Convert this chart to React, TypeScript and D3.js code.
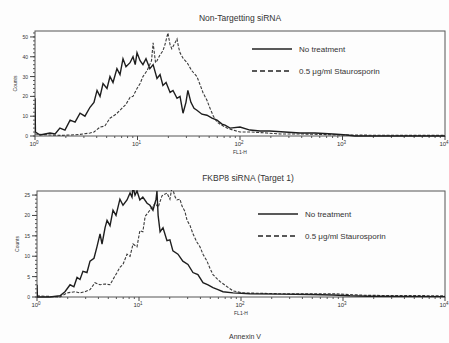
import React from 'react';
import * as d3 from 'd3';

// FL1-H intensity vs counts
const topNoTreatment: [number, number][] = [
  [1.0, 19], [1.01, 2], [1.12, 0.5], [1.25, 1], [1.4, 1.5], [1.57, 1], [1.75, 4], [1.96, 3],
  [2.2, 8], [2.46, 7], [2.75, 11.5], [3.07, 10], [3.44, 14.5], [3.76, 17], [4.03, 23], [4.31, 20],
  [4.61, 26.5], [5.04, 24], [5.39, 30], [5.77, 27], [6.3, 34], [6.75, 31], [7.22, 39], [7.72, 35],
  [8.45, 37], [9.04, 40], [9.5, 36], [9.89, 42], [10.6, 38], [11.3, 36], [12.1, 39], [13.2, 34],
  [14.2, 36], [15.5, 29], [16.6, 31], [17.7, 25.5], [19.0, 27], [20.8, 22], [22.2, 23], [24.3, 19],
  [26.0, 20], [27.8, 11.5], [29.7, 17], [31.0, 23], [33.2, 17], [35.6, 14], [38.0, 13], [42.5, 11],
  [47.6, 10.5], [53.3, 9], [59.7, 8], [66.8, 6], [71.4, 5.5], [80, 4], [100, 4.5], [125, 3],
  [157, 2.5], [195, 2.5], [273, 2], [385, 1.5], [540, 1.5], [807, 1], [1107, 0.5], [1320, 0], [10000, 0]
];

const topStauro: [number, number][] = [
  [1.0, 1], [1.4, 0.5], [1.75, 0.3], [2.2, 0.5], [2.75, 0.8], [3.44, 1.5], [3.76, 2], [4.31, 4.5],
  [4.8, 5], [5.39, 9], [6.17, 11], [6.75, 13], [7.72, 16], [8.45, 19.5], [9.04, 20], [9.89, 24],
  [10.6, 26.5], [11.3, 30], [12.4, 33], [13.7, 38], [14.2, 47], [15.0, 37], [15.5, 38], [16.6, 41],
  [17.7, 43], [18.5, 46], [19.8, 52], [20.8, 46], [21.6, 44], [23.2, 47], [24.3, 49], [25.1, 45],
  [26.0, 42], [28.0, 39], [30.5, 37], [33.8, 33], [38.0, 30], [40.7, 26], [43.5, 22], [47.6, 18],
  [51.0, 14], [55, 10], [59.7, 7], [66, 5.5], [74.7, 4], [85.5, 3], [100, 2], [130, 2], [183, 1.5],
  [250, 1], [400, 1], [600, 0.8], [1000, 0.5], [2000, 0.4], [5000, 0.3], [10000, 0.3]
];

const bottomNoTreatment: [number, number][] = [
  [1.0, 3], [1.01, 0], [1.34, 0], [1.68, 0.3], [1.88, 1.3], [2.11, 3], [2.3, 2.5], [2.47, 4.8],
  [2.64, 4.3], [2.82, 6.3], [3.09, 6], [3.31, 8.8], [3.62, 9.5], [3.87, 12.3], [4.15, 15.5], [4.34, 13],
  [4.65, 17], [4.86, 18.8], [5.2, 17.5], [5.56, 21.3], [5.95, 20], [6.5, 24], [6.97, 22.5], [7.63, 23.8],
  [8.17, 25.5], [8.54, 24.5], [8.74, 27], [9.14, 25], [9.56, 26], [10.2, 23.8], [10.9, 24.5], [12.0, 23],
  [12.8, 22.5], [13.7, 21.3], [14.7, 24], [15.0, 26], [15.4, 20], [16.1, 16], [17.2, 17], [18.8, 13.8],
  [20.1, 14], [21.5, 11.3], [24.1, 10.5], [26.9, 8.8], [30.2, 8], [33.8, 6], [37.8, 5.5], [42.4, 3.5],
  [47.5, 3], [53.1, 2.3], [59.5, 1.8], [66.6, 1.3], [83.5, 1], [122, 0.8], [241, 0.7], [475, 0.6],
  [796, 0.5], [1170, 0.3], [1720, 0.2], [10000, 0.1]
];

const bottomStauro: [number, number][] = [
  [1.0, 0.3], [1.68, 0], [1.97, 1], [2.36, 1.3], [2.64, 1], [2.95, 1.3], [3.31, 1.8], [3.7, 3.5],
  [4.15, 3], [4.65, 3.2], [5.2, 3], [5.56, 4.3], [6.09, 6], [6.5, 7.3], [6.97, 8], [7.63, 10.5],
  [8.17, 10], [8.74, 13], [9.56, 12.3], [10.2, 16.3], [10.9, 16], [11.5, 19.8], [12.8, 21.3], [14.4, 23],
  [15.4, 22], [16.8, 24.8], [18.8, 25.5], [20.1, 24], [21.1, 27], [22.6, 24.5], [23.6, 23.8], [25.2, 24],
  [26.4, 22.3], [28.2, 21], [29.6, 18.8], [31.7, 17.5], [33.8, 15.5], [36.9, 13.5], [39.6, 12.3], [42.4, 10.5],
  [46.4, 8.8], [49.7, 7], [53.1, 5.5], [58.1, 4.5], [62.2, 3.8], [73.2, 2.5], [83.5, 1.5], [105, 1],
  [241, 0.8], [796, 0.8], [1720, 0.4], [10000, 0.3]
];

const xTicks = [1, 10, 100, 1000, 10000];
const topYTicks = [0, 10, 20, 30, 40, 50];
const bottomYTicks = [0, 5, 10, 15, 20, 25];
const legendLabels = ['No treatment', '0.5 \u03bcg/ml Staurosporin'];

const ink = '#333';
const font = 'Liberation Sans, Arial, sans-serif';

type PanelProps = {
  title: string;
  titleX: number;
  left: number;
  right: number;
  top: number;
  bottom: number;
  yMax: number;
  yTicks: number[];
  minorStep: number;
  solid: [number, number][];
  dashed: [number, number][];
  legendX: number;
  legendY: number;
};

function Panel(p: PanelProps) {
  const x = d3.scaleLog().domain([1, 10000]).range([p.left, p.right]);
  const y = d3.scaleLinear().domain([0, p.yMax]).range([p.bottom, p.top]);
  const line = d3
    .line<[number, number]>()
    .x((d) => x(d[0]))
    .y((d) => y(d[1]));

  const minorX: number[] = [];
  for (let k = 0; k < 4; k++) for (let m = 2; m < 10; m++) minorX.push(m * Math.pow(10, k));
  const minorY = d3.range(0, p.yMax, p.minorStep);
  const clipId = 'clip-' + p.top;

  return (
    <g>
      <text x={p.titleX} y={p.top - 10} textAnchor="middle" fontSize={8.5} fill={ink} fontFamily={font}>
        {p.title}
      </text>
      <clipPath id={clipId}>
        <rect x={p.left} y={p.top - 1} width={p.right - p.left} height={p.bottom - p.top + 2} />
      </clipPath>
      <rect x={p.left} y={p.top} width={p.right - p.left} height={p.bottom - p.top} fill="none" stroke="#555" strokeWidth={1} />
      {/* x axis ticks */}
      {minorX.map((v) => (
        <line key={'mx' + v} x1={x(v)} x2={x(v)} y1={p.bottom} y2={p.bottom + 2} stroke="#555" />
      ))}
      {xTicks.map((v, i) => (
        <g key={'x' + v}>
          <line x1={x(v)} x2={x(v)} y1={p.bottom} y2={p.bottom + 4} stroke="#444" />
          <text x={x(v) - 1} y={p.bottom + 10} textAnchor="middle" fontSize={6} fill={ink} fontFamily={font}>
            10<tspan dy={-2.5} fontSize={4.5}>{i}</tspan>
          </text>
        </g>
      ))}
      <text x={x(100)} y={p.bottom + 18} textAnchor="middle" fontSize={5} fill={ink} fontFamily={font}>
        FL1-H
      </text>
      {/* y axis ticks */}
      {minorY.map((v) => (
        <line key={'my' + v} x1={p.left - 2} x2={p.left} y1={y(v)} y2={y(v)} stroke="#555" />
      ))}
      {p.yTicks.map((v) => (
        <g key={'y' + v}>
          <line x1={p.left - 5} x2={p.left} y1={y(v)} y2={y(v)} stroke="#444" />
          <text x={p.left - 7} y={y(v) + 2} textAnchor="end" fontSize={5} fill={ink} fontFamily={font}>
            {v}
          </text>
        </g>
      ))}
      <text
        transform={`translate(${p.left - 18},${(p.top + p.bottom) / 2}) rotate(-90)`}
        textAnchor="middle"
        fontSize={5}
        fill={ink}
        fontFamily={font}
      >
        Counts
      </text>
      {/* histograms */}
      <g clipPath={`url(#${clipId})`}>
        <path d={line(p.dashed) || ''} fill="none" stroke="#3a3a3a" strokeWidth={1.1} strokeDasharray="3,1.5" />
        <path d={line(p.solid) || ''} fill="none" stroke="#1e1e1e" strokeWidth={1.4} />
      </g>
      {/* legend */}
      <line x1={p.legendX} x2={p.legendX + 40} y1={p.legendY} y2={p.legendY} stroke="#222" strokeWidth={1.3} />
      <text x={p.legendX + 47} y={p.legendY + 3} fontSize={8} fill={ink} fontFamily={font}>
        {legendLabels[0]}
      </text>
      <line
        x1={p.legendX}
        x2={p.legendX + 40}
        y1={p.legendY + 22}
        y2={p.legendY + 22}
        stroke="#222"
        strokeWidth={1.3}
        strokeDasharray="5,3"
      />
      <text x={p.legendX + 47} y={p.legendY + 25} fontSize={8} fill={ink} fontFamily={font}>
        {legendLabels[1]}
      </text>
    </g>
  );
}

export default function App() {
  return (
    <div style={{ position: 'absolute', left: 0, top: 0 }}>
      <svg width={449} height={343} style={{ display: 'block', background: '#fdfdfd' }}>
        <Panel
          title="Non-Targetting siRNA"
          titleX={240}
          left={35}
          right={445}
          top={31}
          bottom={136}
          yMax={53}
          yTicks={topYTicks}
          minorStep={2}
          solid={topNoTreatment}
          dashed={topStauro}
          legendX={252}
          legendY={49}
        />
        <Panel
          title="FKBP8 siRNA (Target 1)"
          titleX={248}
          left={37}
          right={445}
          top={191}
          bottom={297}
          yMax={26}
          yTicks={bottomYTicks}
          minorStep={1}
          solid={bottomNoTreatment}
          dashed={bottomStauro}
          legendX={258}
          legendY={214}
        />
        <text x={245} y={339} textAnchor="middle" fontSize={7} fill={ink} fontFamily={font}>
          Annexin V
        </text>
      </svg>
    </div>
  );
}
